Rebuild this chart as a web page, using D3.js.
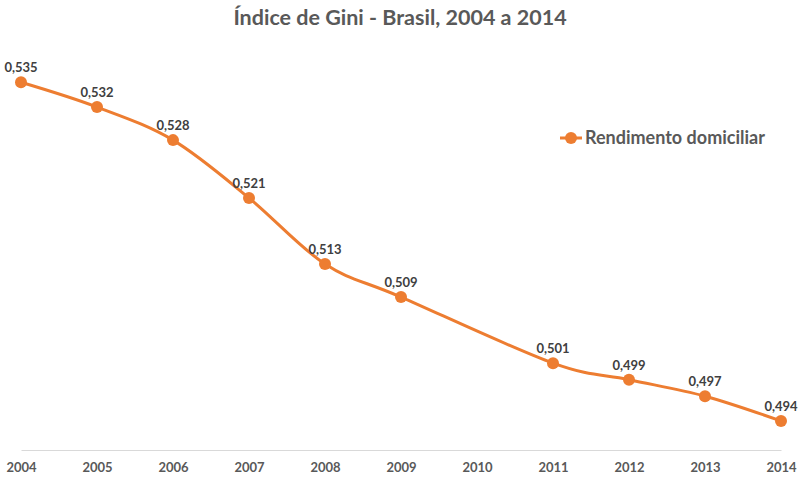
<!DOCTYPE html>
<html>
<head>
<meta charset="utf-8">
<script src="https://cdn.jsdelivr.net/npm/d3@7"></script>
<style>
  body { margin: 0; background: #fff; }
  text { font-family: Lato, "Open Sans", sans-serif; font-weight: bold; }
</style>
</head>
<body>
<div id="chart"></div>
<script>
const years = ['2004','2005','2006','2007','2008','2009','2010','2011','2012','2013','2014'];
const gini = [0.535, 0.532, 0.528, 0.521, 0.513, 0.509, null, 0.501, 0.499, 0.497, 0.494];
const seriesName = 'Rendimento domiciliar';
const title = 'Índice de Gini - Brasil, 2004 a 2014';

const width = 800, height = 481;
const orange = '#ED7D31';

const svg = d3.select('#chart').append('svg')
  .attr('width', width)
  .attr('height', height);

// Title
svg.append('text')
  .attr('x', 400)
  .attr('y', 25)
  .attr('text-anchor', 'middle')
  .attr('fill', '#595959')
  .style('font-size', '21.5px')
  .text(title);

// X scale
const x = d3.scalePoint()
  .domain(years)
  .range([21, 781]);

// Y scale
const y = d3.scaleLinear()
  .domain([0.49, 0.54])
  .range([454, 41]);

// X axis
const xAxis = svg.append('g')
  .attr('transform', 'translate(0,450)')
  .call(d3.axisBottom(x).tickSize(0).tickPadding(13));
xAxis.select('.domain').attr('stroke', '#d9d9d9').attr('stroke-width', 1);
xAxis.selectAll('text')
  .attr('fill', '#595959')
  .style('font-size', '13px')
  .style('font-family', 'Lato, "Open Sans", sans-serif')
  .style('font-weight', 'bold');

const points = years.map((yr, i) => ({ year: yr, value: gini[i] }))
  .filter(d => d.value !== null);

// Line
const line = d3.line()
  .x(d => x(d.year))
  .y(d => y(d.value))
  .curve(d3.curveCatmullRom.alpha(0));

svg.append('path')
  .datum(points)
  .attr('d', line)
  .attr('fill', 'none')
  .attr('stroke', orange)
  .attr('stroke-width', 3);

// Markers
svg.selectAll('circle.pt')
  .data(points)
  .enter().append('circle')
    .attr('class', 'pt')
    .attr('cx', d => x(d.year))
    .attr('cy', d => y(d.value))
    .attr('r', 6)
    .attr('fill', orange);

// Data labels
svg.selectAll('text.lbl')
  .data(points)
  .enter().append('text')
    .attr('class', 'lbl')
    .attr('x', d => x(d.year))
    .attr('y', d => y(d.value) - 10)
    .attr('text-anchor', 'middle')
    .attr('fill', '#404040')
    .style('font-size', '13px')
    .text(d => d.value.toFixed(3).replace('.', ','));

// Legend
const legend = svg.append('g').attr('transform', 'translate(560,138)');
legend.append('line')
  .attr('x1', 0).attr('x2', 22)
  .attr('stroke', orange).attr('stroke-width', 3);
legend.append('circle')
  .attr('cx', 11).attr('r', 6).attr('fill', orange);
legend.append('text')
  .attr('x', 25).attr('y', 6)
  .attr('fill', '#595959')
  .style('font-size', '18px')
  .text(seriesName);
</script>
</body>
</html>
